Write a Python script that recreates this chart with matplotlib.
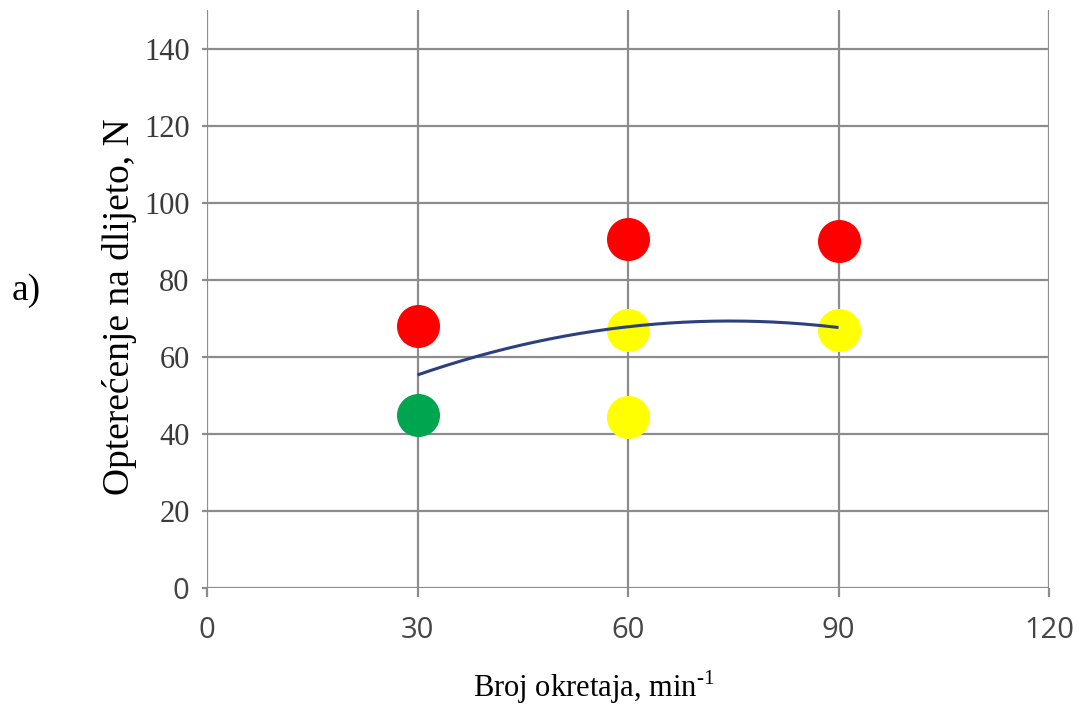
import matplotlib
matplotlib.use("Agg")
import matplotlib.pyplot as plt
import numpy as np

# values
red_x = [30, 60, 90]
red_y = [68, 90.5, 90]
yellow_x = [60, 60, 90]
yellow_y = [67, 44.5, 67]
green_x = [30]
green_y = [45]
trend_x = [30, 60, 90]
trend_y = [55.3, 67.8, 67.6]

x_ticks = [0, 30, 60, 90, 120]
y_ticks = [0, 20, 40, 60, 80, 100, 120, 140]

plt.rcParams['mathtext.fontset'] = 'custom'
plt.rcParams['mathtext.rm'] = 'Liberation Serif'

serif = 'Liberation Serif'
sans = 'Open Sans'
grid_col = '#8c8c8c'

fig = plt.figure(figsize=(10.81, 7.10), dpi=100)
ax = fig.add_axes([0.1915, 0.1718, 0.7789, 0.8141])

ax.set_xlim(0, 120)
ax.set_ylim(0, 150)
for s in ax.spines.values():
    s.set_visible(False)

ax.set_xticks(x_ticks, [str(v) for v in x_ticks])
ax.set_yticks(y_ticks, [str(v) for v in y_ticks])
ax.grid(True, color=grid_col, linewidth=1.6, zorder=0)
ax.tick_params(axis='x', length=6.5, width=1.6, color=grid_col, pad=14,
               labelsize=21, labelcolor='#454545')
ax.tick_params(axis='y', length=3.6, width=1.6, color=grid_col, pad=9,
               labelsize=22, labelcolor='#3a3a3a')
for lbl in ax.get_xticklabels():
    lbl.set_fontfamily(sans)
for lbl in ax.get_yticklabels():
    if lbl.get_text() == '0':
        lbl.set_fontfamily(sans)
        lbl.set_fontsize(21)
        lbl.set_color('#454545')
    else:
        lbl.set_fontfamily(serif)

ax.scatter(red_x, red_y, s=960, color='#ff0000', linewidths=0, zorder=3)
ax.scatter(yellow_x, yellow_y, s=960, color='#ffff00', linewidths=0, zorder=3)
ax.scatter(green_x, green_y, s=960, color='#00a550', linewidths=0, zorder=3)

# smooth trend through the line values
coef = np.polyfit(trend_x, trend_y, 2)
xs = np.linspace(trend_x[0], trend_x[-1], 200)
ax.plot(xs, np.polyval(coef, xs), color='#2c3f80', linewidth=2.2, zorder=4,
        solid_capstyle='butt')

fig.text(0.549, 0.0183, r'Broj okretaja, min$^{\text{-1}}$', family=serif,
         fontsize=22, ha='center', va='baseline')
fig.text(0.111, 0.5676, 'Opterećenje na dlijeto, N', family=serif,
         fontsize=27, rotation=90, ha='center', va='center')
fig.text(0.024, 0.59, 'a)', family=serif, fontsize=27, ha='center', va='center')

fig.savefig('out.png', dpi=100, facecolor='white')
